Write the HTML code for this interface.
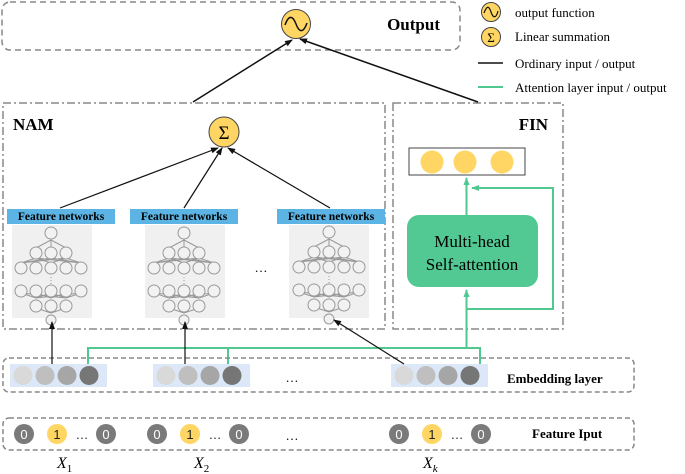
<!DOCTYPE html>
<html><head><meta charset="utf-8"><style>
html,body{margin:0;padding:0;background:#fff;}
svg{display:block;font-family:"Liberation Serif",serif;}
</style></head><body>
<svg width="685" height="474" viewBox="0 0 685 474" xmlns="http://www.w3.org/2000/svg">
<defs>
<marker id="ab" markerWidth="8" markerHeight="8" refX="7" refY="4" orient="auto" markerUnits="userSpaceOnUse"><path d="M0,1 L8,4 L0,7 Z" fill="#111"/></marker>
<marker id="ag" markerWidth="8" markerHeight="8" refX="7" refY="4" orient="auto" markerUnits="userSpaceOnUse"><path d="M0,1 L8,4 L0,7 Z" fill="#4fc98f"/></marker>
<g id="net" fill="none" stroke="#999" stroke-width="1">
<path d="M0,7 L-15,15 M0,7 L0,15 M0,7 L15,15 M-15,25 L-30,30 M-15,25 L30,30 M15,25 L-30,30 M15,25 L30,30 M0,25 L-30,30 M0,25 L30,30 M-15,25 L0,30 M15,25 L0,30
M-30,60 L-15,65 M30,60 L15,65 M-30,60 L15,65 M30,60 L-15,65 M0,60 L-15,65 M0,60 L15,65 M-15,60 L0,65 M15,60 L0,65 M-15,75 L0,80 M0,75 L0,80 M15,75 L0,80"/>
<circle cx="0" cy="0" r="6" fill="#f2f2f2"/>
<circle cx="-15" cy="20" r="6" fill="#f2f2f2"/><circle cx="0" cy="20" r="6" fill="#f2f2f2"/><circle cx="15" cy="20" r="6" fill="#f2f2f2"/>
<circle cx="-30" cy="35" r="6" fill="#f2f2f2"/><circle cx="-15" cy="35" r="6" fill="#f2f2f2"/><circle cx="0" cy="35" r="6" fill="#f2f2f2"/><circle cx="15" cy="35" r="6" fill="#f2f2f2"/><circle cx="30" cy="35" r="6" fill="#f2f2f2"/>
<path d="M0,44 V51" stroke-dasharray="1,2"/>
<circle cx="-30" cy="58" r="6" fill="#f2f2f2"/><circle cx="-15" cy="58" r="6" fill="#f2f2f2"/><circle cx="0" cy="58" r="6" fill="#f2f2f2"/><circle cx="15" cy="58" r="6" fill="#f2f2f2"/><circle cx="30" cy="58" r="6" fill="#f2f2f2"/>
<circle cx="-15" cy="73" r="6" fill="#f2f2f2"/><circle cx="0" cy="73" r="6" fill="#f2f2f2"/><circle cx="15" cy="73" r="6" fill="#f2f2f2"/>
<circle cx="0" cy="87" r="5" fill="#f2f2f2"/>
</g>
<g id="emb">
<rect x="0" y="0" width="97" height="23" fill="#dce8f8"/>
<circle cx="13" cy="11.5" r="9.5" fill="#d9d9d9"/><circle cx="35" cy="11.5" r="9.5" fill="#bfbfbf"/><circle cx="57" cy="11.5" r="9.5" fill="#a6a6a6"/><circle cx="79" cy="11.5" r="9.5" fill="#767676"/>
</g>
<g id="fi" font-family="Liberation Sans, sans-serif" font-size="13" text-anchor="middle">
<circle cx="0" cy="0" r="10" fill="#7a7a7a"/><text x="0" y="5" fill="#fff">0</text>
<circle cx="33" cy="0" r="10" fill="#ffd563"/><text x="33" y="5" fill="#222">1</text>
<text x="58" y="5" fill="#222">…</text>
<circle cx="82" cy="0" r="10" fill="#7a7a7a"/><text x="82" y="5" fill="#fff">0</text>
</g>
</defs>

<!-- Output box -->
<rect x="2" y="2" width="458" height="48" rx="8" fill="none" stroke="#888" stroke-width="1.5" stroke-dasharray="6,4"/>
<text x="440" y="30" font-size="17" font-weight="bold" text-anchor="end">Output</text>
<circle cx="296" cy="24" r="14.5" fill="#ffd563" stroke="#444"/>
<path d="M285,25 C289,14 293,16 296,24 C299,32 303,34 307,23" fill="none" stroke="#111" stroke-width="1.5"/>

<!-- Legend -->
<circle cx="491" cy="12" r="9.5" fill="#ffd563" stroke="#444"/>
<path d="M484,13 C487,5 489,6 491,12 C493,18 496,19 498,11" fill="none" stroke="#111" stroke-width="1.2"/>
<text x="515" y="17" font-size="13">output function</text>
<circle cx="491" cy="37" r="9.5" fill="#ffd563" stroke="#444"/>
<text x="491" y="42" font-size="13" text-anchor="middle">Σ</text>
<text x="515" y="41" font-size="13">Linear summation</text>
<line x1="478" y1="63" x2="503" y2="63" stroke="#111" stroke-width="1.5"/>
<text x="515" y="68" font-size="13">Ordinary input / output</text>
<line x1="478" y1="87" x2="503" y2="87" stroke="#4fc98f" stroke-width="2"/>
<text x="515" y="92" font-size="13">Attention layer input / output</text>

<!-- NAM box -->
<rect x="3" y="103" width="382" height="226" fill="none" stroke="#888" stroke-width="1.5" stroke-dasharray="8,3,2,3"/>
<text x="13" y="130" font-size="17" font-weight="bold">NAM</text>
<!-- FIN box -->
<rect x="393" y="103" width="170" height="226" fill="none" stroke="#888" stroke-width="1.5" stroke-dasharray="8,3,2,3"/>
<text x="548" y="130" font-size="17" font-weight="bold" text-anchor="end">FIN</text>

<!-- output connections -->
<line x1="193" y1="102" x2="292" y2="40" stroke="#111" stroke-width="1.5" marker-end="url(#ab)"/>
<line x1="478" y1="102" x2="300" y2="39" stroke="#111" stroke-width="1.5" marker-end="url(#ab)"/>

<!-- sigma -->
<circle cx="224" cy="132" r="15" fill="#ffd563" stroke="#444"/>
<text x="224" y="139" font-size="19" text-anchor="middle">Σ</text>
<line x1="60" y1="208" x2="218" y2="148" stroke="#111" stroke-width="1.2" marker-end="url(#ab)"/>
<line x1="184" y1="208" x2="222" y2="148" stroke="#111" stroke-width="1.2" marker-end="url(#ab)"/>
<line x1="330" y1="208" x2="228" y2="148" stroke="#111" stroke-width="1.2" marker-end="url(#ab)"/>

<!-- feature networks -->
<g font-size="11.5" font-weight="bold" text-anchor="middle">
<rect x="7" y="209" width="108" height="15" fill="#5bb4e3"/><text x="61" y="220">Feature networks</text>
<rect x="130" y="209" width="108" height="15" fill="#5bb4e3"/><text x="184" y="220">Feature networks</text>
<rect x="277" y="209" width="108" height="15" fill="#5bb4e3"/><text x="331" y="220">Feature networks</text>
</g>
<rect x="12" y="225" width="80" height="93" fill="#f0f0f0"/>
<rect x="145" y="225" width="80" height="93" fill="#f0f0f0"/>
<rect x="289" y="225" width="80" height="93" fill="#f0f0f0"/>
<use href="#net" x="51" y="233"/>
<use href="#net" x="184" y="233"/>
<use href="#net" x="329" y="232"/>
<text x="261" y="272" font-size="13" text-anchor="middle">…</text>

<!-- FIN content -->
<rect x="409" y="148" width="116" height="27" fill="#fff" stroke="#444" stroke-width="1"/>
<circle cx="432" cy="162" r="11.5" fill="#ffd563"/><circle cx="465" cy="162" r="11.5" fill="#ffd563"/><circle cx="502" cy="162" r="11.5" fill="#ffd563"/>
<rect x="407" y="215" width="131" height="72" rx="12" fill="#52c993"/>
<text x="472" y="247" font-size="17" text-anchor="middle">Multi-head</text>
<text x="472" y="270" font-size="17" text-anchor="middle">Self-attention</text>
<line x1="466.5" y1="215" x2="466.5" y2="178" stroke="#4fc98f" stroke-width="2" marker-end="url(#ag)"/>
<polyline points="466.5,309 553,309 553,188 472,188" fill="none" stroke="#4fc98f" stroke-width="2" marker-end="url(#ag)"/>
<line x1="466.5" y1="348" x2="466.5" y2="290" stroke="#4fc98f" stroke-width="2" marker-end="url(#ag)"/>

<!-- green bus -->
<polyline points="88,364 88,348 480,348 480,364" fill="none" stroke="#4fc98f" stroke-width="2"/>
<line x1="228" y1="348" x2="228" y2="364" stroke="#4fc98f" stroke-width="2"/>

<!-- embedding layer -->
<rect x="3" y="358" width="631" height="34" rx="6" fill="none" stroke="#888" stroke-width="1.5" stroke-dasharray="5,3"/>
<use href="#emb" x="10" y="364"/>
<use href="#emb" x="153" y="364"/>
<use href="#emb" x="391" y="364"/>
<text x="292" y="382" font-size="13" text-anchor="middle">…</text>
<text x="507" y="383" font-size="13" font-weight="bold">Embedding layer</text>
<line x1="52" y1="364" x2="52" y2="322" stroke="#111" stroke-width="1.2" marker-end="url(#ab)"/>
<line x1="185" y1="364" x2="185" y2="322" stroke="#111" stroke-width="1.2" marker-end="url(#ab)"/>
<line x1="404" y1="364" x2="334" y2="320" stroke="#111" stroke-width="1.2" marker-end="url(#ab)"/>

<!-- feature input -->
<rect x="3" y="418" width="631" height="32" rx="6" fill="none" stroke="#888" stroke-width="1.5" stroke-dasharray="5,3"/>
<use href="#fi" x="24" y="434"/>
<use href="#fi" x="157" y="434"/>
<use href="#fi" x="399" y="434"/>
<text x="292" y="440" font-size="13" text-anchor="middle">…</text>
<text x="532" y="438" font-size="13" font-weight="bold">Feature Iput</text>

<g font-size="16" font-style="italic">
<text x="57" y="468">X<tspan font-size="11" dy="4" font-style="normal">1</tspan></text>
<text x="194" y="468">X<tspan font-size="11" dy="4" font-style="normal">2</tspan></text>
<text x="423" y="468">X<tspan font-size="11" dy="4">k</tspan></text>
</g>
</svg>
</body></html>
